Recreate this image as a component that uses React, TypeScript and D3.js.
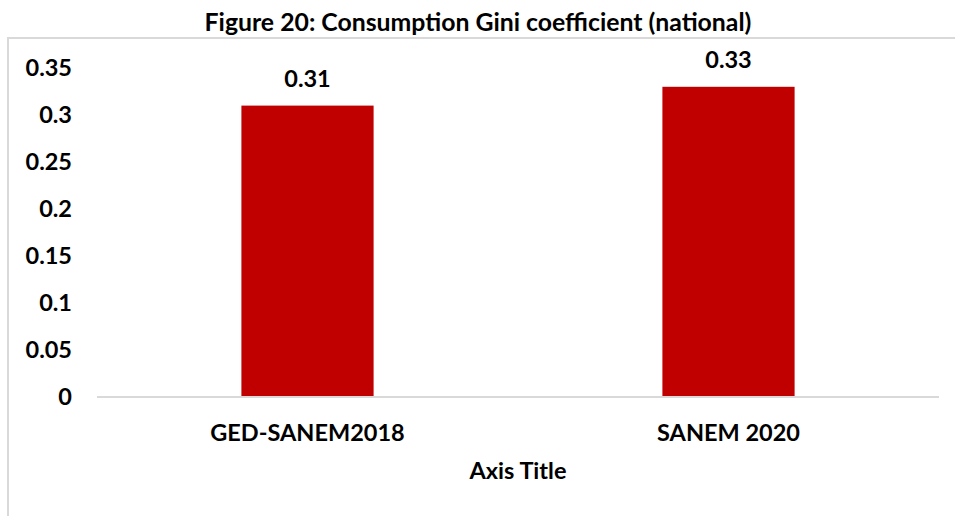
import * as d3 from "d3";
import { useEffect, useRef } from "react";

const categories = ["GED-SANEM2018", "SANEM 2020"];
const values = [0.31, 0.33];
const yTicks = [0, 0.05, 0.1, 0.15, 0.2, 0.25, 0.3, 0.35];

const FONT = "Lato, 'Open Sans', sans-serif";

export default function App() {
  const ref = useRef<SVGSVGElement | null>(null);

  useEffect(() => {
    document.body.style.margin = "0";
    if (!ref.current) return;

    const width = 955;
    const height = 516;
    const svg = d3.select(ref.current);
    svg.selectAll("*").remove();
    svg.attr("viewBox", `0 0 ${width} ${height}`);

    svg.append("rect").attr("width", width).attr("height", height).attr("fill", "#fff");

    // chart area border (cropped on the right and bottom)
    svg
      .append("path")
      .attr("d", `M8,${height + 2} L8,38 L${width + 2},38`)
      .attr("fill", "none")
      .attr("stroke", "#d9d9d9")
      .attr("stroke-width", 2);

    svg
      .append("text")
      .attr("x", 478)
      .attr("y", 31)
      .attr("text-anchor", "middle")
      .attr("font-family", FONT)
      .attr("font-weight", 700)
      .attr("font-size", 24.8)
      .attr("fill", "#000")
      .text("Figure 20: Consumption Gini coefficient (national)");

    const x = d3.scaleBand<string>().domain(categories).range([97, 939]).padding(0);
    const y = d3.scaleLinear().domain([0, 0.35]).range([397, 68]);
    const barWidth = x.bandwidth() * 0.314;

    svg
      .selectAll("text.ytick")
      .data(yTicks)
      .join("text")
      .attr("class", "ytick")
      .attr("x", 72)
      .attr("y", (d) => y(d))
      .attr("dy", "0.36em")
      .attr("text-anchor", "end")
      .attr("font-family", FONT)
      .attr("font-weight", 700)
      .attr("font-size", 23.5)
      .text((d) => String(d));

    svg
      .selectAll("rect.bar")
      .data(values)
      .join("rect")
      .attr("class", "bar")
      .attr("x", (_, i) => x(categories[i])! + (x.bandwidth() - barWidth) / 2)
      .attr("y", (d) => y(d))
      .attr("width", barWidth)
      .attr("height", (d) => y(0) - y(d))
      .attr("fill", "#c00000");

    svg
      .selectAll("text.value")
      .data(values)
      .join("text")
      .attr("class", "value")
      .attr("x", (_, i) => x(categories[i])! + x.bandwidth() / 2)
      .attr("y", (d) => y(d) - 19)
      .attr("text-anchor", "middle")
      .attr("font-family", FONT)
      .attr("font-weight", 700)
      .attr("font-size", 23.5)
      .text((d) => d.toFixed(2));

    svg
      .append("line")
      .attr("x1", 97)
      .attr("x2", 939)
      .attr("y1", y(0))
      .attr("y2", y(0))
      .attr("stroke", "#d9d9d9")
      .attr("stroke-width", 2);

    svg
      .selectAll("text.cat")
      .data(categories)
      .join("text")
      .attr("class", "cat")
      .attr("x", (d) => x(d)! + x.bandwidth() / 2)
      .attr("y", 441)
      .attr("text-anchor", "middle")
      .attr("font-family", FONT)
      .attr("font-weight", 700)
      .attr("font-size", 23.5)
      .text((d) => d);

    svg
      .append("text")
      .attr("x", 518)
      .attr("y", 479)
      .attr("text-anchor", "middle")
      .attr("font-family", FONT)
      .attr("font-weight", 700)
      .attr("font-size", 23.5)
      .text("Axis Title");
  }, []);

  return <svg ref={ref} width={955} height={516} style={{ display: "block" }} />;
}
